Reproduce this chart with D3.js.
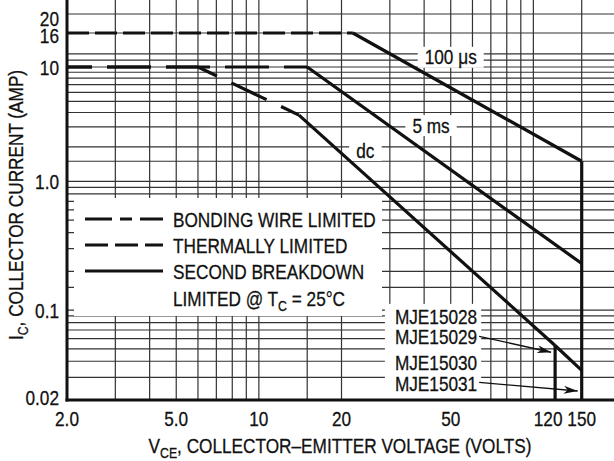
<!DOCTYPE html>
<html>
<head>
<meta charset="utf-8">
<script src="https://cdn.jsdelivr.net/npm/d3@7"></script>
<style>
  body { margin: 0; background: #fff; }
  text { font-family: "Liberation Sans", Arial, sans-serif; fill: #111; stroke: #111; stroke-width: 0.3; }
</style>
</head>
<body>
<svg id="soa" width="614" height="461"></svg>
<script>
// active region safe operating area (log / log)

var xTicks = [2, 5, 10, 20, 50, 120, 150]
var xTickLabels = ["2.0", "5.0", "10", "20", "50", "120", "150"]
var yTicks = [0.02, 0.1, 1, 10, 16, 20]
var yTickLabels = ["0.02", "0.1", "1.0", "10", "16", "20"]

// grid
var xGrid = [3, 4, 5, 6, 7, 8, 9, 10, 15, 20, 30, 40, 50, 60, 70, 80, 90, 100, 150]
var yGrid = [0.03, 0.04, 0.05, 0.06, 0.07, 0.08, 0.09, 0.1, 0.15, 0.2, 0.3, 0.4, 0.5, 0.6, 0.7, 0.8, 0.9,
             1, 1.5, 2, 3, 4, 5, 6, 7, 8, 9, 10, 11, 12, 16, 20]

// curves (volts, amps, kind of limit for each segment)
var dcVolts = [2, 6, 14, 120, 150]
var dcAmps = [10, 10, 3.8, 0.053, 0.034]
var dcSegs = ["thermal", "bond", "second", "second"]

var ms5Volts = [2, 15, 150]
var ms5Amps = [10, 10, 0.23]
var ms5Segs = ["thermal", "second"]

var us100Volts = [2, 22, 150, 150]
var us100Amps = [16, 16, 1.5, 0.02]
var us100Segs = ["thermal16", "second", "second"]

var v120Volts = [120, 120]
var v120Amps = [0.053, 0.02]
var v120Segs = ["second"]

// curve labels
var curveNames = ["100 \u03bcs", "5 ms", "dc"]
var curveNameV = [50, 42.4, 24.4]
var curveNameI = [11.5, 3.1, 1.88]

// part numbers + arrows
var partNames = ["MJE15028", "MJE15029", "MJE15030", "MJE15031"]
var partV = 31.3
var partI = [0.0884, 0.0618, 0.0388, 0.0271]
var arrowTipV = [120, 150]
var arrowTipI = [0.047, 0.0235]

var dash = {thermal: "44,15", thermal16: "22,6", bond: "21,16,39,16", second: null}
var dashOff = {thermal: 19, thermal16: 0, bond: 0, second: 0}

var FS = 21, NARROW = 0.82

var svg = d3.select("#soa")

var x = d3.scaleLog().domain([2, 200]).range([67, 616])
var y = d3.scaleLog().domain([0.02, 1, 10, 16, 20]).range([400, 181.4, 67, 33, 14])

var left = x(2), right = 614, top = y(20), bottom = y(0.02)

// condensed text: squeeze horizontally around its anchor point
function ntext(parent, px, py, anchor, rot) {
  var t = parent.append("text")
    .attr("transform", "translate(" + px + "," + py + ")" + (rot ? " rotate(" + rot + ")" : "") + " scale(" + NARROW + ",1)")
    .attr("text-anchor", anchor || "start").attr("font-size", FS)
  t.px = px; t.py = py
  return t
}
// bbox on screen of an unrotated condensed text
function sbox(t) {
  var b = t.node().getBBox()
  return {x: t.px + b.x * NARROW, y: t.py + b.y, width: b.width * NARROW, height: b.height}
}

// gridlines
svg.append("g").selectAll("line").data(yGrid).enter().append("line")
  .attr("x1", left).attr("x2", right)
  .attr("y1", d => y(d)).attr("y2", d => y(d))
  .attr("stroke", "#333").attr("stroke-width", 1.2)
svg.append("g").selectAll("line").data(xGrid).enter().append("line")
  .attr("x1", d => x(d)).attr("x2", d => x(d))
  .attr("y1", top).attr("y2", bottom)
  .attr("stroke", "#333").attr("stroke-width", 1.2)

// legend box (white, hides the grid)
var leg = svg.append("g")
leg.append("rect").attr("x", 74).attr("y", 198).attr("width", 308).attr("height", 118).attr("fill", "#fff")

var legRows = [219, 245, 271]
var legDash = ["27,8,12,8", "23,7", null]
var legText = ["BONDING WIRE LIMITED", "THERMALLY LIMITED", "SECOND BREAKDOWN"]
legRows.forEach(function(r, i) {
  leg.append("line").attr("x1", 85).attr("x2", 163).attr("y1", r).attr("y2", r)
    .attr("stroke", "#111").attr("stroke-width", 3).attr("stroke-dasharray", legDash[i])
  ntext(leg, 173, r + 7.5).text(legText[i])
})
var lt = ntext(leg, 173, 298 + 7.5)
lt.append("tspan").text("LIMITED @ T")
lt.append("tspan").attr("dy", 5).attr("font-size", 15).text("C")
lt.append("tspan").attr("dy", -5).text(" = 25\u00b0C")

// curve labels with white background
var nameG = svg.append("g")
curveNames.forEach(function(n, i) {
  var t = ntext(nameG, x(curveNameV[i]), y(curveNameI[i]) + 7.5, "middle").text(n)
  var b = sbox(t)
  nameG.insert("rect", "text").attr("x", b.x - 7).attr("y", b.y + 1).attr("width", b.width + 14)
    .attr("height", b.height - 2).attr("fill", "#fff")
})

// part number block
var partG = svg.append("g")
var partTexts = partNames.map(function(n, i) {
  return ntext(partG, x(partV), y(partI[i]) + 7.5).text(n)
})
var b0 = sbox(partTexts[0]), bw = d3.max(partTexts, t => sbox(t).width)
partG.insert("rect", "text").attr("x", b0.x - 10).attr("y", b0.y - 2)
  .attr("width", bw + 14).attr("height", bottom - b0.y + 2).attr("fill", "#fff")

// curves
var line = d3.line().x(d => x(d[0])).y(d => y(d[1]))
function drawCurve(volts, amps, segs) {
  segs.forEach(function(s, i) {
    svg.append("path")
      .attr("d", line([[volts[i], amps[i]], [volts[i + 1], amps[i + 1]]]))
      .attr("fill", "none").attr("stroke", "#111").attr("stroke-width", 3.2)
      .attr("stroke-dasharray", dash[s]).attr("stroke-dashoffset", dashOff[s])
  })
}
drawCurve(us100Volts, us100Amps, us100Segs)
drawCurve(ms5Volts, ms5Amps, ms5Segs)
drawCurve(dcVolts, dcAmps, dcSegs)
drawCurve(v120Volts, v120Amps, v120Segs)

// arrows from part names to voltage limits
svg.append("defs").append("marker").attr("id", "arr")
  .attr("viewBox", "0 0 14 8").attr("refX", 14).attr("refY", 4)
  .attr("markerWidth", 14).attr("markerHeight", 8).attr("markerUnits", "userSpaceOnUse")
  .attr("orient", "auto")
  .append("path").attr("d", "M0,0 L14,4 L0,8 L4,4 Z").attr("fill", "#111")
;[1, 3].forEach(function(pi, k) {
  var b = sbox(partTexts[pi])
  svg.append("line")
    .attr("x1", b.x + b.width + 2).attr("y1", b.y + b.height / 2 - 1)
    .attr("x2", x(arrowTipV[k]) - 4).attr("y2", y(arrowTipI[k]))
    .attr("stroke", "#111").attr("stroke-width", 1.3).attr("marker-end", "url(#arr)")
})

// axes frame
svg.append("line").attr("x1", left).attr("x2", left).attr("y1", top - 1).attr("y2", bottom + 1.5)
  .attr("stroke", "#111").attr("stroke-width", 3)
svg.append("line").attr("x1", left - 1.5).attr("x2", right).attr("y1", bottom).attr("y2", bottom)
  .attr("stroke", "#111").attr("stroke-width", 3)

// tick labels
var xl = svg.append("g")
xTicks.forEach(function(d, i) {
  ntext(xl, x(d) + (d == 120 ? -7 : 0), 426, "middle").text(xTickLabels[i])
})
var yl = svg.append("g")
yTicks.forEach(function(d, i) {
  var cy = Math.min(Math.max(y(d) + (d == 16 ? 2 : 0), 18), 397)
  ntext(yl, 59, cy + 7.5, "end").text(yTickLabels[i])
})

// axis titles
var xt = ntext(svg, 340, 453, "middle")
xt.append("tspan").text("V")
xt.append("tspan").attr("dy", 5).attr("font-size", 15).text("CE")
xt.append("tspan").attr("dy", -5).text(", COLLECTOR\u2013EMITTER VOLTAGE (VOLTS)")

var yt = ntext(svg, 23, 205, "middle", -90)
yt.append("tspan").text("I")
yt.append("tspan").attr("dy", 5).attr("font-size", 15).text("C")
yt.append("tspan").attr("dy", -5).text(", COLLECTOR CURRENT (AMP)")
</script>
</body>
</html>
